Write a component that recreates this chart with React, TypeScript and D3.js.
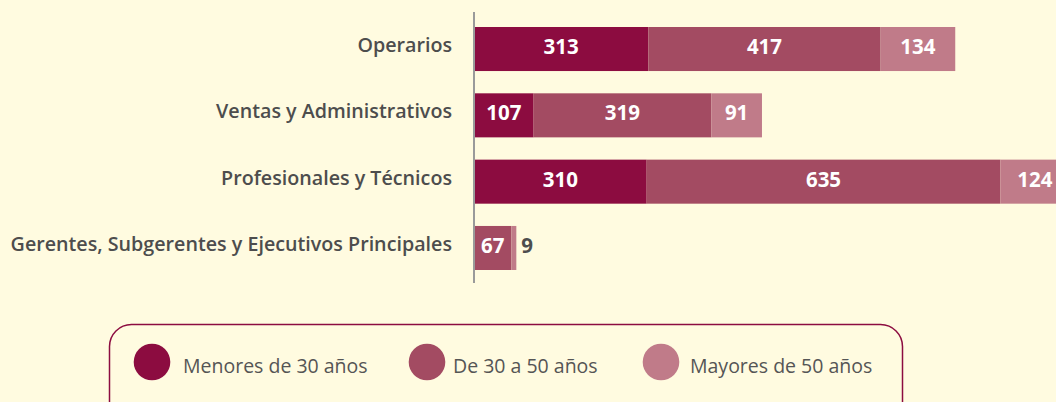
import React from "react";
import * as d3 from "d3";

const categories = [
  "Operarios",
  "Ventas y Administrativos",
  "Profesionales y Técnicos",
  "Gerentes, Subgerentes y Ejecutivos Principales",
];
const seriesNames = ["Menores de 30 años", "De 30 a 50 años", "Mayores de 50 años"];
const menores30 = [313, 107, 310, 0];
const de30a50 = [417, 319, 635, 67];
const mayores50 = [134, 91, 124, 9];
const colors = ["#8C0C40", "#A34B62", "#C07B89"];

const W = 1056;
const H = 402;
const FONT = "'Open Sans', 'Noto Sans', sans-serif";

export default function App() {
  const series = [menores30, de30a50, mayores50];
  const rows = categories.map((c, i) => {
    const r: any = { cat: c };
    seriesNames.forEach((s, j) => (r[s] = series[j][i]));
    return r;
  });
  const stacked = d3.stack<any>().keys(seriesNames)(rows);

  const x = d3.scaleLinear().domain([0, 1000]).range([474, 474 + 557]);
  const y = d3.scaleBand<string>().domain(categories).range([27, 270]).paddingInner(0.336).paddingOuter(0);
  const bh = y.bandwidth();

  const legendCx = [152, 427, 661];
  const legendTx = [183, 453, 690];

  return (
    <div style={{ position: "fixed", left: 0, top: 0, width: W, height: H }}>
      <svg width={W} height={H} style={{ display: "block", background: "#FFFBE0" }}>
        <rect x={0} y={0} width={W} height={H} fill="#FFFBE0" />
        {stacked.map((layer, j) => (
          <g key={layer.key}>
            {layer.map((d, i) => {
              const x0 = x(d[0]);
              const x1 = x(d[1]);
              const v = d[1] - d[0];
              if (v <= 0) return null;
              const yy = y(categories[i])!;
              const w = x1 - x0;
              const inside = w > 25;
              return (
                <g key={i}>
                  <rect x={x0} y={yy} width={w} height={bh} fill={colors[j]} />
                  <text
                    x={inside ? (x0 + x1) / 2 : x1 + 5}
                    y={yy + bh / 2 + 5}
                    textAnchor={inside ? "middle" : "start"}
                    fill={inside ? "#ffffff" : "#4d4d4d"}
                    fontFamily={FONT}
                    fontWeight={700}
                    fontSize={20.5}
                  >
                    {v}
                  </text>
                </g>
              );
            })}
          </g>
        ))}
        <line x1={474} x2={474} y1={12} y2={283} stroke="#9a9a9a" strokeWidth={2} />
        {categories.map((c) => (
          <text
            key={c}
            x={452}
            y={y(c)! + bh / 2 + 3}
            textAnchor="end"
            fill="#4d4d4d"
            fontFamily={FONT}
            fontWeight={600}
            fontSize={19.7}
          >
            {c}
          </text>
        ))}
        <rect x={109.5} y={324.5} width={793} height={120} rx={22} ry={22} fill="none" stroke="#8C0C40" strokeWidth={1.5} />
        {seriesNames.map((s, j) => (
          <g key={s}>
            <circle cx={legendCx[j]} cy={362} r={18.3} fill={colors[j]} />
            <text
              x={legendTx[j]}
              y={372.5}
              fill="#555555"
              fontFamily={FONT}
              fontSize={19.5}
            >
              {s}
            </text>
          </g>
        ))}
      </svg>
    </div>
  );
}
